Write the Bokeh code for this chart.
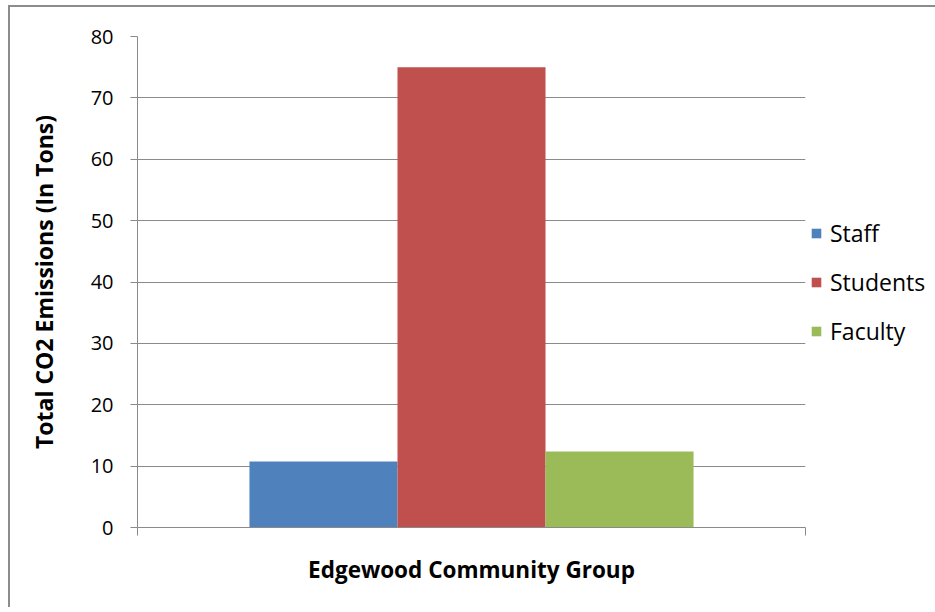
from bokeh.plotting import figure
from bokeh.models import (Range1d, FixedTicker, Legend, LegendItem,
                          ColumnDataSource, Column)
from bokeh.embed import file_html
from bokeh.resources import INLINE

group = "Edgewood Community Group"
y_title = "Total CO2 Emissions (In Tons)"
series = ["Staff", "Students", "Faculty"]
values = [10.75, 75.0, 12.4]
colors = ["#4F81BD", "#C0504D", "#9BBB59"]
y_ticks = [0, 10, 20, 30, 40, 50, 60, 70, 80]

FONT = "Open Sans"
BAR_W = 0.2216   # fraction of the category width taken by one bar
n = len(series)
# category spans 0..1 on x; bars are dodged around its centre
xpos = [0.5 + (i - (n - 1) / 2) * BAR_W for i in range(n)]

p = figure(x_range=Range1d(0, 1), y_range=Range1d(0, 80),
           frame_width=668, frame_height=491,
           output_backend="svg", toolbar_location=None,
           min_border_left=127, min_border_right=5,
           min_border_top=29, min_border_bottom=80)
p.outline_line_color = None
p.background_fill_color = "white"
p.border_fill_color = "white"
p.xgrid.visible = False
p.ygrid.grid_line_color = "#8a8a8a"
p.ygrid.grid_line_width = 1
p.ygrid.ticker = FixedTicker(ticks=y_ticks)

ya = p.yaxis[0]
ya.ticker = FixedTicker(ticks=y_ticks)
ya.axis_label = y_title
ya.axis_label_text_font = FONT
ya.axis_label_text_font_style = "bold"
ya.axis_label_text_font_size = "23px"
ya.axis_label_text_color = "black"
ya.axis_label_standoff = 28
ya.major_label_text_font = FONT
ya.major_label_text_font_size = "20px"
ya.major_label_text_color = "black"
ya.major_label_standoff = 17
ya.axis_line_color = "#8a8a8a"
ya.major_tick_line_color = "#8a8a8a"
ya.major_tick_out = 7
ya.major_tick_in = 0
ya.minor_tick_line_color = None

xa = p.xaxis[0]
xa.ticker = FixedTicker(ticks=[0, 1])
xa.major_label_overrides = {0: " ", 1: " "}
xa.major_label_text_font_size = "1px"
xa.major_tick_out = 8
xa.major_tick_in = 0
xa.axis_line_color = "#8a8a8a"
xa.major_tick_line_color = "#8a8a8a"
xa.minor_tick_line_color = None
xa.axis_label = group
xa.axis_label_text_font = FONT
xa.axis_label_text_font_style = "bold"
xa.axis_label_text_font_size = "22.5px"
xa.axis_label_text_color = "black"
xa.axis_label_standoff = 9

items = []
for name, x, val, col in zip(series, xpos, values, colors):
    src = ColumnDataSource(dict(x=[x], top=[val]))
    r = p.vbar(x="x", top="top", bottom=0, width=BAR_W, source=src,
               fill_color=col, line_color=None)
    items.append(LegendItem(label=name, renderers=[r]))

legend = Legend(items=items, location="center_left", orientation="vertical",
                border_line_color=None, background_fill_color="white",
                label_text_font=FONT, label_text_font_size="23px",
                label_text_color="black", glyph_width=12, glyph_height=12,
                label_height=22, spacing=17, label_standoff=8, padding=0,
                margin=5)
p.add_layout(legend, "right")

root = Column(p, styles={"margin-left": "8px", "margin-top": "5px",
                         "border-left": "2px solid #8c8c8c",
                         "border-top": "2px solid #8c8c8c"})

open("out.html", "w").write(file_html(root, INLINE))
